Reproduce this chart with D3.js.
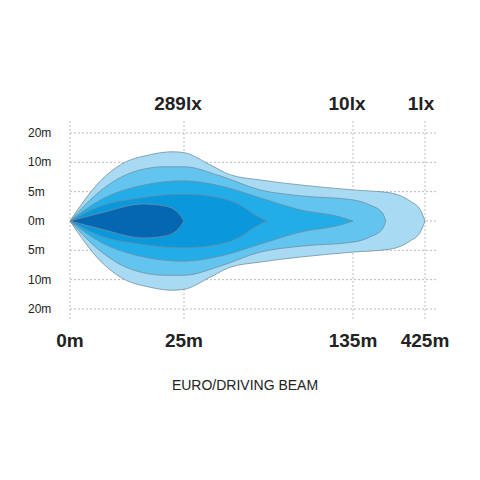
<!DOCTYPE html>
<html><head><meta charset="utf-8">
<script src="https://cdn.jsdelivr.net/npm/d3@7"></script>
<style>body{margin:0;background:#fff}</style>
</head><body>
<svg id="c" width="480" height="480"></svg>
<script>
// distance ticks (m) and lateral rows
const xTicks = [0, 25, 135, 425];
const xLabels = ["0m", "25m", "135m", "425m"];
const yLabels = ["20m", "10m", "5m", "0m", "5m", "10m", "20m"];
const luxLabels = [{t: "289lx", m: 25}, {t: "10lx", m: 135}, {t: "1lx", m: 425}];

// half-width profiles [distance m, half-width in rows], outer to inner
const outer = [[0,0],[6.7,1.37],[11.1,1.92],[17.6,2.26],[22.4,2.36],[25,2.33],[41.9,1.92],[54.9,1.58],[74.5,1.40],[100.5,1.23],[135,1.06],[284,0.96],[365,0.68],[406,0.38],[425,0]];
const zone2 = [[0,0],[6.7,1.03],[13.3,1.64],[20.9,1.85],[25,1.85],[48.4,1.54],[74.5,1.06],[100.5,0.86],[135,0.72],[202,0.55],[254,0.27],[267,0]];
const zone3 = [[0,0],[6.7,0.72],[15.4,1.20],[25,1.37],[48.4,1.20],[74.5,0.79],[100.5,0.38],[126.5,0.14],[135,0]];
const zone4 = [[0,0],[6.7,0.51],[15.4,0.79],[25,0.92],[48.4,0.79],[61.4,0.55],[71.2,0.21],[79,0]];
const zone5 = [[0,0],[6.7,0.27],[16.1,0.58],[20.9,0.51],[24.1,0.21],[25,0]];
const zones = [outer, zone2, zone3, zone4, zone5];
const colors = ["#a9daf3", "#62c4ef", "#22ade8", "#0b97dc", "#0566b2"];

const svg = d3.select("#c");
const x = d3.scaleLinear().domain(xTicks).range([70, 184, 353, 425]);
const y = d3.scaleLinear().domain([-3, 3]).range([133, 309]);

// grid
svg.append("g").selectAll("line").data(d3.range(-3, 4)).join("line")
  .attr("x1", 70).attr("x2", 436).attr("y1", d => y(d)).attr("y2", d => y(d))
  .attr("stroke", "#aaa").attr("stroke-width", 0.8).attr("stroke-dasharray", "2,2");
svg.append("g").selectAll("line").data(xTicks).join("line")
  .attr("x1", d => x(d)).attr("x2", d => x(d)).attr("y1", 121).attr("y2", 320)
  .attr("stroke", "#aaa").attr("stroke-width", 0.8).attr("stroke-dasharray", "2,2");

// beam zones: smooth top edge, mirrored bottom edge
const edge = d3.line().curve(d3.curveMonotoneX);
zones.forEach((z, i) => {
  const top = edge(z.map(p => [x(p[0]), y(-p[1])]));
  const bot = edge(z.map(p => [x(p[0]), y(p[1])]).reverse());
  svg.append("path").attr("d", top + "L" + bot.slice(1) + "Z")
    .attr("fill", colors[i]).attr("stroke", "#6f8fa0").attr("stroke-width", 0.8);
});

// labels
const font = "Arial, Liberation Sans, sans-serif";
svg.append("g").selectAll("text").data(yLabels).join("text")
  .attr("x", 28).attr("y", (d, i) => y(i - 3) + 4).text(d => d)
  .attr("font-family", font).attr("font-size", 12).attr("fill", "#222");
svg.append("g").selectAll("text").data(xTicks).join("text")
  .attr("x", d => x(d)).attr("y", 347).attr("text-anchor", "middle").text((d, i) => xLabels[i])
  .attr("font-family", font).attr("font-size", 19).attr("font-weight", "bold").attr("fill", "#222");
svg.append("g").selectAll("text").data(luxLabels).join("text")
  .attr("x", d => x(d.m) - (d.m === 425 ? 4 : 6)).attr("y", 110).attr("text-anchor", "middle").text(d => d.t)
  .attr("font-family", font).attr("font-size", 19).attr("font-weight", "bold").attr("fill", "#222");
svg.append("text").attr("x", 245).attr("y", 390).attr("text-anchor", "middle").text("EURO/DRIVING BEAM")
  .attr("font-family", font).attr("font-size", 14).attr("fill", "#222");
</script>
</body></html>
